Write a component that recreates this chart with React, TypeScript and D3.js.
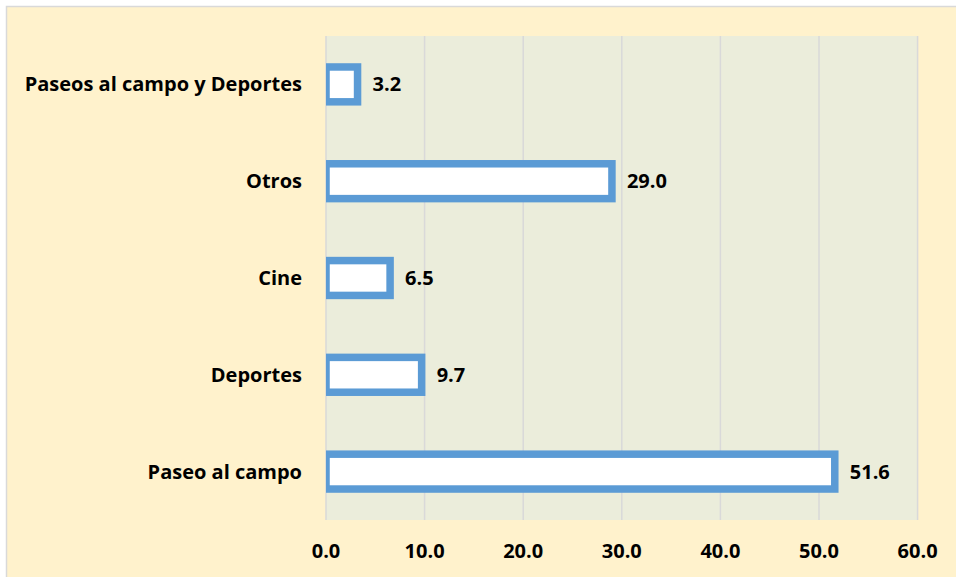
import React from "react";
import * as d3 from "d3";

const categories = ["Paseos al campo y Deportes", "Otros", "Cine", "Deportes", "Paseo al campo"];
const values = [3.2, 29.0, 6.5, 9.7, 51.6];
const ticks = [0, 10, 20, 30, 40, 50, 60];

const W = 956, H = 577;
const plot = { left: 326, right: 917.6, top: 36, bottom: 520 };
const FONT = "'Open Sans', sans-serif";

export default function App() {
  const x = d3.scaleLinear().domain([0, 60]).range([plot.left, plot.right]);
  const y = d3.scaleBand().domain(categories).range([plot.top, plot.bottom]).paddingInner(0.64).paddingOuter(0.32);
  const bh = y.bandwidth();
  return (
    <svg width={W} height={H} style={{ position: "absolute", left: 0, top: 0, display: "block" }}>
      <defs>
        <clipPath id="pc">
          <rect x={plot.left} y={plot.top} width={plot.right - plot.left + 20} height={plot.bottom - plot.top} />
        </clipPath>
      </defs>
      <rect x={0} y={0} width={W} height={H} fill="#ffffff" />
      <rect x={6.5} y={6.5} width={W + 10} height={H + 10} fill="#FFF2CC" stroke="#D9D9D9" strokeWidth={1.5} />
      <rect x={plot.left} y={plot.top} width={plot.right - plot.left} height={plot.bottom - plot.top} fill="#EBEDDB" />
      {ticks.map((t) => (
        <line key={"g" + t} x1={x(t)} x2={x(t)} y1={plot.top} y2={plot.bottom} stroke="#D9D9D9" strokeWidth={1.5} />
      ))}
      <g clipPath="url(#pc)">
        {categories.map((c, i) => (
          <rect key={c} x={x(0)} y={y(c)!} width={x(values[i]) - x(0)} height={bh} fill="#ffffff" stroke="#5B9BD5" strokeWidth={7.5} />
        ))}
      </g>
      {categories.map((c, i) => (
        <text key={"v" + c} x={x(values[i]) + 15} y={y(c)! + bh / 2} dy="0.35em" fontFamily={FONT} fontWeight={700} fontSize={20} fill="#000">
          {values[i].toFixed(1)}
        </text>
      ))}
      {categories.map((c) => (
        <text key={"c" + c} x={302} y={y(c)! + bh / 2} dy="0.35em" textAnchor="end" fontFamily={FONT} fontWeight={700} fontSize={20} fill="#000">
          {c}
        </text>
      ))}
      {ticks.map((t) => (
        <text key={"t" + t} x={x(t)} y={551} dy="0.35em" textAnchor="middle" fontFamily={FONT} fontWeight={700} fontSize={20} fill="#000">
          {t.toFixed(1)}
        </text>
      ))}
    </svg>
  );
}
